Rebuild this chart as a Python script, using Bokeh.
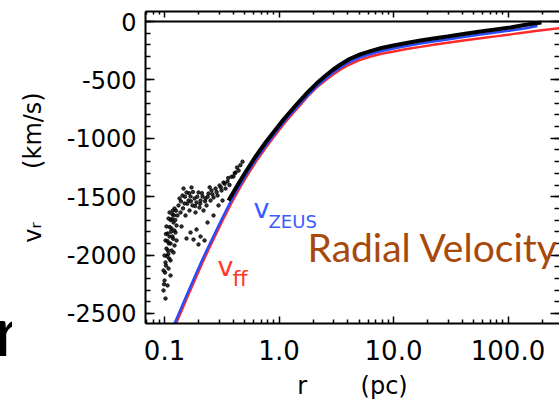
import math
from bokeh.plotting import figure
from bokeh.layouts import row
from bokeh.models import (FixedTicker, LogAxis, LinearAxis, Span, Label,
                          PrintfTickFormatter, Div)
from bokeh.embed import file_html
from bokeh.resources import INLINE

# ---------------- data ----------------
# free-fall velocity (red)
r_ff = [0.1261, 0.1423, 0.1604, 0.1848, 0.2127, 0.2448, 0.2818, 0.3310,
        0.3888, 0.4566, 0.5363, 0.6427, 0.7858, 0.9418, 1.1286, 1.3526,
        1.5887, 1.846, 2.1257, 2.4967, 2.9327, 3.4446, 4.1281, 5.0477,
        6.2977, 7.8565, 10.0, 12.988, 17.212, 22.356, 29.62, 40.86, 57.52,
        77.79, 105.16, 139.36, 180.98, 281.6]
v_ff = [-2586, -2466, -2346, -2209, -2072, -1944, -1819, -1678,
        -1545, -1421, -1306, -1186, -1066, -963, -865, -775,
        -698, -625, -565, -509, -458, -411, -368, -330,
        -300, -276, -257, -236, -217, -199, -182, -163, -144,
        -127, -110, -93, -79, -56]

# ZEUS velocity (blue)
r_zeus = [0.1223, 0.1380, 0.1556, 0.1792, 0.2063, 0.2374, 0.2733, 0.3210,
          0.3771, 0.4429, 0.5202, 0.6234, 0.7622, 0.9135, 1.0947, 1.3119,
          1.5409, 1.8098, 2.1257, 2.4967, 2.9327, 3.4446, 4.1281, 5.0477,
          6.2977, 7.8565, 10.0, 12.988, 17.212, 22.356, 29.62, 40.86, 57.52,
          77.79, 105.16, 139.36, 180.98]
v_zeus = [-2586, -2466, -2346, -2209, -2072, -1944, -1819, -1678,
          -1545, -1421, -1306, -1186, -1066, -963, -865, -775,
          -698, -625, -557, -497, -441, -394, -347, -308,
          -278, -253, -231, -210, -188, -171, -154, -133, -111,
          -94, -77, -60, -39]

# simulation profile (black band)
r_sim = [0.3622, 0.4429, 0.5202, 0.6234, 0.7622, 0.9135, 1.0947, 1.3119,
         1.5409, 1.8098, 2.1257, 2.4967, 2.9327, 3.4446, 4.1281, 5.0477,
         6.2977, 7.8565, 10.0, 12.988, 17.212, 22.356, 29.62, 40.86, 57.52,
         77.79, 105.16, 139.36, 180.98, 196.2]
v_sim = [-1533, -1387, -1276, -1156, -1036, -938, -839, -749,
         -672, -599, -531, -471, -415, -368, -321, -283,
         -253, -227, -205, -184, -163, -146, -128, -107, -86,
         -68, -51, -30, -13, -9]

# noisy inner simulation points (black dots)
r_scatter = [0.098, 0.100, 0.098, 0.102, 0.100, 0.104, 0.102, 0.1062, 0.104,
             0.1084, 0.1106, 0.1128, 0.1151, 0.1128, 0.1174, 0.1151, 0.1198,
             0.1174, 0.1223, 0.1247, 0.1223, 0.1273, 0.1084, 0.1062, 0.102,
             0.1106, 0.1198, 0.1298, 0.1273, 0.1128,
             0.1325, 0.1352, 0.1379, 0.1436, 0.1465, 0.1495, 0.1525, 0.1556,
             0.162, 0.1653, 0.1687, 0.1721, 0.1756, 0.1828, 0.1865, 0.1903,
             0.198, 0.202, 0.2063, 0.2148, 0.219, 0.2281, 0.2328, 0.2422,
             0.2522, 0.2574, 0.268, 0.279, 0.2905, 0.3024, 0.3148, 0.3275,
             0.341, 0.355, 0.3695, 0.400, 0.417, 0.4435,
             0.1687, 0.1792, 0.1903, 0.2063, 0.2236, 0.198, 0.1556, 0.1407,
             0.2375, 0.268, 0.296, 0.321,
             0.099, 0.101, 0.103, 0.105, 0.107, 0.109, 0.111, 0.113, 0.116,
             0.118, 0.121, 0.124, 0.126, 0.108, 0.110, 0.106, 0.103, 0.114,
             0.119, 0.122,
             0.139, 0.145, 0.151, 0.158, 0.164, 0.170, 0.177, 0.185, 0.193,
             0.205, 0.212, 0.226, 0.238, 0.248, 0.262, 0.285, 0.31, 0.335,
             0.36, 0.385, 0.41, 0.43, 0.46, 0.48]
v_scatter = [-2303, -2218, -2132, -2063, -2004, -1944, -1875, -1815, -1755,
             -1687, -1635, -2046, -1961, -1901, -1841, -1772, -1721,
             -1652, -1601, -1807, -1918, -1747, -2115, -2260, -2372,
             -1841, -1978, -1661, -1875, -2175,
             -1575, -1515, -1635, -1490, -1430, -1558, -1661, -1464,
             -1533, -1618, -1498, -1421, -1575, -1515, -1635, -1550,
             -1464, -1593, -1533, -1498, -1618, -1515, -1575, -1473,
             -1533, -1447, -1507, -1430, -1490, -1404, -1447, -1379,
             -1430, -1370, -1400, -1327, -1293, -1276,
             -1807, -1867, -1781, -1841, -1875, -1909, -1858, -1755,
             -1721, -1661, -1575, -1533,
             -2250, -2150, -2090, -2010, -1960, -1900, -1760, -1700, -1690,
             -1620, -1660, -1700, -1620, -1990, -2030, -1880, -1820, -1800,
             -1860, -1790,
             -1540, -1600, -1500, -1560, -1470, -1540, -1460, -1580, -1500,
             -1560, -1470, -1540, -1500, -1420, -1480, -1460, -1420, -1390,
             -1340, -1330, -1300, -1250, -1230, -1200]

x_major = [0.1, 1.0, 10.0, 100.0]
x_minor = [0.07, 0.08, 0.09, 0.2, 0.3, 0.4, 0.5, 0.6, 0.7, 0.8, 0.9,
           2, 3, 4, 5, 6, 7, 8, 9, 20, 30, 40, 50, 60, 70, 80, 90, 200]
y_major = [0, -500, -1000, -1500, -2000, -2500]
y_minor = list(range(-2500, 1, 100))

FONT = "DejaVu Sans"
NB = "\u00a0"

p = figure(width=547, height=404, x_axis_type="log",
           x_range=(0.0682, 281.7), y_range=(-2586, 86),
           output_backend="svg", toolbar_location=None,
           min_border_left=133, min_border_right=0,
           min_border_top=11, min_border_bottom=81)
p.grid.visible = False
p.outline_line_color = None
p.background_fill_color = "white"
p.border_fill_color = "white"


def style(ax, labels, major_in, minor_in, size, standoff, line=True):
    ax.major_tick_in = major_in
    ax.major_tick_out = 0
    ax.minor_tick_in = minor_in
    ax.minor_tick_out = 0
    ax.major_tick_line_color = "black"
    ax.minor_tick_line_color = "black"
    ax.major_tick_line_width = 1.5
    ax.minor_tick_line_width = 1.5
    ax.axis_line_width = 2
    ax.axis_line_color = "black" if line else None
    if labels:
        ax.major_label_text_font = FONT
        ax.major_label_text_font_size = size
        ax.major_label_text_color = "black"
        ax.major_label_standoff = standoff
        ax.axis_label_text_font = FONT
        ax.axis_label_text_font_style = "normal"
        ax.axis_label_text_font_size = "24px"
        ax.axis_label_text_color = "black"
    else:
        ax.major_label_text_font_size = "1px"
        ax.major_label_text_alpha = 0
        ax.major_label_standoff = 0


xa = p.xaxis[0]
xa.ticker = FixedTicker(ticks=x_major, minor_ticks=x_minor)
xa.formatter = PrintfTickFormatter(format="%.1f")
style(xa, True, 7, 4, "26px", 16)
xa.axis_label = "r" + NB * 7 + "(pc)"
xa.axis_label_standoff = 9

ya = p.yaxis[0]
ya.ticker = FixedTicker(ticks=y_major, minor_ticks=y_minor)
ya.formatter = PrintfTickFormatter(format="%d")
style(ya, True, 9, 5, "24px", 9)
ya.axis_label = "v\u1d63" + NB * 7 + "(km/s)"
ya.axis_label_standoff = 17

top = LogAxis(ticker=FixedTicker(ticks=x_major, minor_ticks=x_minor))
style(top, False, 6, 3, None, 0)
p.add_layout(top, "above")

right = LinearAxis(ticker=FixedTicker(ticks=y_major, minor_ticks=y_minor))
style(right, False, 9, 5, None, 0, line=False)
p.add_layout(right, "right")

p.add_layout(Span(location=0, dimension="width", line_color="black",
                  line_width=2))

# curves
p.line(r_ff, v_ff, line_color="#ff2a2a", line_width=2.5)
p.line(r_zeus, v_zeus, line_color="#2a4cff", line_width=2.5)
p.scatter(r_scatter, v_scatter, size=3.5, color="black", alpha=0.8)
p.line(r_sim, v_sim, line_color="black", line_width=4)


def lab(fig, text, x, y, size, color="black", font=FONT, align="left"):
    fig.add_layout(Label(x=x, y=y, x_units="screen", y_units="screen",
                         text=text, text_font=font, text_font_size=size,
                         text_color=color, text_align=align,
                         text_baseline="middle"))


# frame: left = 145 on the page, bottom = 323; y is measured upward
lab(p, "Radial Velocity", 162, 77, "39px", color="#a8490c", font="Lato")
lab(p, "v", 108, 115.5, "27px", color="#3a5cff")
lab(p, "ZEUS", 123, 102, "18px", color="#3a5cff")
lab(p, "v", 72, 57.5, "27px", color="#ff3a2a")
lab(p, "ff", 87, 45.5, "22px", color="#ff3a2a")

# narrow strip on the left holding the cut-off big "r"
side = Div(text=('<div style="padding-top:294px;margin-left:-5px;'
                 'font-family:Lato;font-size:70px;line-height:70px;'
                 'color:black;white-space:nowrap;">r</div>'),
           width=12, height=404, margin=0,
           styles={"overflow": "hidden"})

layout = row(side, p, spacing=0)

open("out.html", "w").write(file_html(layout, INLINE))
